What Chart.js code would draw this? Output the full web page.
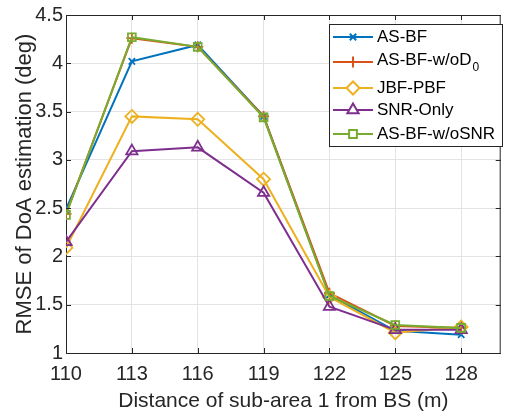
<!DOCTYPE html>
<html>
    <head>
        <title>RMSE of DoA estimation</title>
        <meta charset="utf-8" />
        <script src="https://cdn.jsdelivr.net/npm/chart.js@4.4.0/dist/chart.umd.min.js"></script>
        <style>
            * { margin: 0; padding: 0; box-sizing: border-box; }
            body { background-color: #ffffff; }
            #wrap { width: 509px; height: 417px; }
        </style>
    </head>
    <body>
        <div id="wrap"><canvas id="myChart" width="509" height="417"></canvas></div>

        <script>
            const distances = [110, 113, 116, 119, 122, 125, 128];
            const yTickValues = [1, 1.5, 2, 2.5, 3, 3.5, 4, 4.5];

            const asBf       = [2.49, 4.02, 4.19, 3.45, 1.60, 1.23, 1.19];
            const asBfWoD0   = [2.44, 4.26, 4.17, 3.45, 1.62, 1.28, 1.26];
            const jbfPbf     = [2.09, 3.45, 3.42, 2.80, 1.58, 1.21, 1.27];
            const snrOnly    = [2.15, 3.09, 3.13, 2.66, 1.48, 1.24, 1.24];
            const asBfWoSnr  = [2.43, 4.27, 4.17, 3.44, 1.59, 1.29, 1.26];

            const labels = ['AS-BF', 'AS-BF-w/oD\u2080', 'JBF-PBF', 'SNR-Only', 'AS-BF-w/oSNR'];
            const colors = ['#0072BD', '#D95319', '#EDB120', '#7E2F8E', '#77AC30'];
            const markers = ['crossRot', 'cross', 'rectRot', 'triangle', 'rect'];
            const markerSizes = [4.5, 5.5, 6.5, 6.5, 5.5];
            const series = [asBf, asBfWoD0, jbfPbf, snrOnly, asBfWoSnr];

            const FONT = 'Liberation Sans, Arial, Helvetica, sans-serif';
            const TEXT = '#262626';

            const datasets = series.map((vals, i) => ({
                label: labels[i],
                data: vals.map((v, j) => ({ x: distances[j], y: v })),
                borderColor: colors[i],
                backgroundColor: 'rgba(0,0,0,0)',
                borderWidth: 2,
                pointStyle: markers[i],
                pointRadius: markerSizes[i],
                pointBorderColor: colors[i],
                pointBackgroundColor: 'rgba(0,0,0,0)',
                pointBorderWidth: 1.8,
                order: series.length - 1 - i,
                tension: 0
            }));

            // box around the axes (top + right) and little ticks
            const boxPlugin = {
                id: 'box',
                afterDraw(chart) {
                    const { ctx, chartArea: a, scales } = chart;
                    ctx.save();
                    ctx.strokeStyle = '#262626';
                    ctx.lineWidth = 1;
                    ctx.beginPath();
                    ctx.moveTo(a.left, a.top + 0.5);
                    ctx.lineTo(a.right, a.top + 0.5);
                    ctx.moveTo(a.right - 0.5, a.top);
                    ctx.lineTo(a.right - 0.5, a.bottom);
                    distances.forEach(d => {
                        const x = Math.round(scales.x.getPixelForValue(d)) + 0.5;
                        ctx.moveTo(x, a.bottom); ctx.lineTo(x, a.bottom - 5);
                        ctx.moveTo(x, a.top); ctx.lineTo(x, a.top + 5);
                    });
                    yTickValues.forEach(v => {
                        const y = Math.round(scales.y.getPixelForValue(v)) + 0.5;
                        ctx.moveTo(a.left, y); ctx.lineTo(a.left + 5, y);
                        ctx.moveTo(a.right, y); ctx.lineTo(a.right - 5, y);
                    });
                    ctx.stroke();
                    ctx.restore();
                }
            };

            // legend drawn in the upper-right corner, MATLAB style
            const legendPlugin = {
                id: 'matLegend',
                afterDraw(chart) {
                    const ctx = chart.ctx;
                    const bx = 329, by = 24, bw = 173, bh = 122;
                    const rows = [37, 62, 88, 110, 134];
                    ctx.save();
                    ctx.fillStyle = '#ffffff';
                    ctx.fillRect(bx, by, bw, bh);
                    ctx.strokeStyle = '#262626';
                    ctx.lineWidth = 1;
                    ctx.strokeRect(bx + 0.5, by + 0.5, bw, bh);
                    chart.data.datasets.forEach((ds, i) => {
                        const y = rows[i];
                        ctx.strokeStyle = ds.borderColor;
                        ctx.lineWidth = ds.borderWidth;
                        ctx.beginPath();
                        ctx.moveTo(333, y); ctx.lineTo(373, y);
                        ctx.stroke();
                        ctx.fillStyle = '#ffffff';
                        Chart.helpers.drawPoint(ctx, {
                            pointStyle: ds.pointStyle, radius: ds.pointRadius,
                            borderWidth: ds.pointBorderWidth, rotation: 0
                        }, 353, y);
                        ctx.fillStyle = '#000000';
                        ctx.textBaseline = 'middle';
                        ctx.textAlign = 'left';
                        ctx.font = '17px ' + FONT;
                        const lab = ds.label;
                        if (lab.endsWith('\u2080')) {
                            const main = lab.slice(0, -1);
                            ctx.fillText(main, 377, y - 2);
                            const w = ctx.measureText(main).width;
                            ctx.font = '12px ' + FONT;
                            ctx.fillText('0', 377 + w + 1, y + 6);
                        } else {
                            ctx.fillText(lab, 377, y);
                        }
                    });
                    ctx.restore();
                }
            };

            const chartConfig = {
                type: 'line',
                data: { datasets },
                options: {
                    responsive: false,
                    animation: false,
                    layout: { padding: { top: 13, right: 1, left: 0, bottom: 0 } },
                    plugins: {
                        legend: { display: false },
                        tooltip: { enabled: false }
                    },
                    scales: {
                        x: {
                            type: 'linear',
                            min: 110,
                            max: 129.8,
                            afterBuildTicks: axis => { axis.ticks = distances.map(v => ({ value: v })); },
                            afterFit: axis => { axis.height = 64; },
                            grid: { color: '#e3e3e3', lineWidth: 1, drawTicks: false },
                            border: { color: '#262626', width: 1 },
                            ticks: { color: TEXT, font: { family: FONT, size: 20 }, padding: 9, maxRotation: 0,
                                     callback: v => String(v) },
                            title: {
                                display: true,
                                text: 'Distance of sub-area 1 from BS (m)',
                                color: TEXT,
                                font: { family: FONT, size: 21 },
                                padding: { top: 0, bottom: 3 }
                            }
                        },
                        y: {
                            type: 'linear',
                            min: 1,
                            max: 4.5,
                            afterBuildTicks: axis => { axis.ticks = yTickValues.map(v => ({ value: v })); },
                            afterFit: axis => { axis.width = 66; },
                            grid: { color: '#e3e3e3', lineWidth: 1, drawTicks: false },
                            border: { color: '#262626', width: 1 },
                            ticks: { color: TEXT, font: { family: FONT, size: 20 }, padding: 3,
                                     callback: v => String(v) },
                            title: {
                                display: true,
                                text: 'RMSE of DoA estimation (deg)',
                                color: TEXT,
                                font: { family: FONT, size: 22 },
                                padding: { top: 12, bottom: 0 }
                            }
                        }
                    }
                },
                plugins: [boxPlugin, legendPlugin]
            };

            const myChart = new Chart(document.getElementById('myChart'), chartConfig);
        </script>
    </body>
</html>
